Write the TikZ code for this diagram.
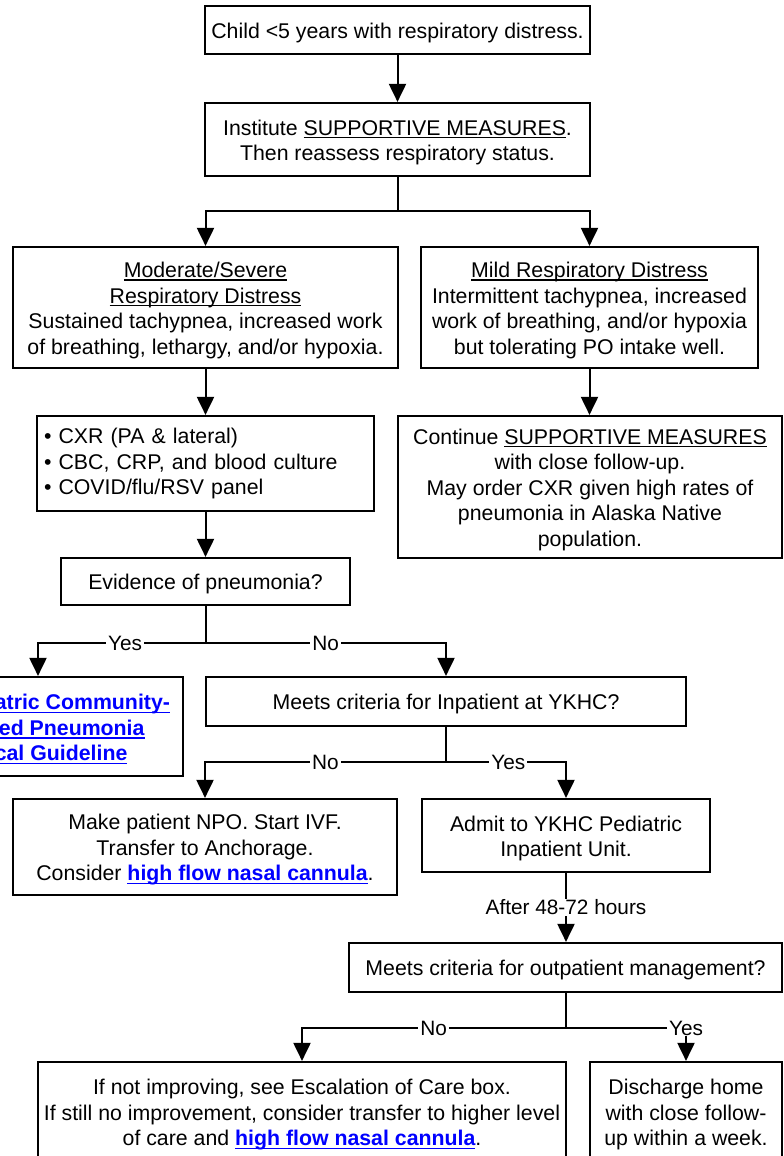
\documentclass[tikz,border=0pt]{standalone}
\usepackage{fontspec}
\setmainfont{Liberation Sans}
\usetikzlibrary{arrows.meta}
\definecolor{linkblue}{RGB}{0,0,255}
\newcommand\ulx[1]{\setbox0=\hbox{#1}\rlap{\rule[-3.2pt]{\wd0}{1.4pt}}\box0}
\newcommand\lnk[1]{{\bfseries\color{linkblue}\ulx{#1}}}
\newcommand\fs{\rule{0pt}{21pt}}
\begin{document}
\begin{tikzpicture}[x=1pt,y=-1pt,
  box/.style={draw, line width=2.2pt, inner sep=0pt, align=center, font=\fontsize{21.3}{25.5}\selectfont},
  conn/.style={line width=2pt},
  arr/.style={conn, -{Triangle[width=17pt,length=18pt]}},
  lbl/.style={fill=white, inner xsep=2pt, inner ysep=1pt, font=\fontsize{20.8}{24}\selectfont}]
\useasboundingbox (0,0) rectangle (784,1156);
\clip (0,0) rectangle (784,1156);
\fill[white] (0,0) rectangle (784,1156);

\node[box, minimum width=385pt, minimum height=48pt] (b1) at (397.5,30) {\fs Child <5 years with respiratory distress.};
\node[box, minimum width=385pt, minimum height=73pt] (b2) at (397.5,139.5) {\fs Institute \ulx{SUPPORTIVE MEASURES}.\\ Then reassess respiratory status.};
\node[box, minimum width=385pt, minimum height=121pt] (b3) at (205.5,307.5) {\fs\ulx{Moderate/Severe}\\ \ulx{Respiratory Distress}\\ Sustained tachypnea, increased work\\ of breathing, lethargy, and/or hypoxia.};
\node[box, minimum width=337pt, minimum height=121pt] (b4) at (589.5,307.5) {\fs\ulx{Mild Respiratory Distress}\\ Intermittent tachypnea, increased\\ work of breathing, and/or hypoxia\\ but tolerating PO intake well.};
\node[box, minimum width=337pt, minimum height=95pt, inner xsep=7pt, text width=323pt, align=left] (b5) at (205.5,463.5) {• CXR (PA \& lateral)\\ • CBC, CRP, and blood culture\\ • COVID/flu/RSV panel};
\node[box, minimum width=384pt, minimum height=142pt] (b6) at (590,487) {\fs Continue \ulx{SUPPORTIVE MEASURES}\\ with close follow-up.\\ May order CXR given high rates of\\ pneumonia in Alaska Native\\ population.};
\node[box, minimum width=289pt, minimum height=47pt] (b7) at (205.5,581.5) {\fs Evidence of pneumonia?};
\node[box, minimum width=290pt, minimum height=99pt] (b8) at (38,726.5) {\fs\phantom{\bfseries See }\lnk{Pediatric Community-}\\ \lnk{Acquired Pneumonia}\\ \lnk{Clinical Guideline}};
\node[box, minimum width=480pt, minimum height=49pt] (b9) at (446,701.5) {\fs Meets criteria for Inpatient at YKHC?};
\node[box, minimum width=384pt, minimum height=96pt] (b10) at (205,847) {\fs Make patient NPO. Start IVF.\\ Transfer to Anchorage.\\ Consider \lnk{high flow nasal cannula}.};
\node[box, minimum width=288pt, minimum height=73pt] (b11) at (566,835.5) {\fs Admit to YKHC Pediatric\\ Inpatient Unit.};
\node[box, minimum width=433pt, minimum height=49pt] (b12) at (565.5,967.5) {\fs Meets criteria for outpatient management?};
\node[box, minimum width=528pt, minimum height=100pt] (b13) at (302,1112) {\fs If not improving, see Escalation of Care box.\\ If still no improvement, consider transfer to higher level\\ of care and \lnk{high flow nasal cannula}.};
\node[box, minimum width=192pt, minimum height=100pt] (b14) at (686,1112) {\fs Discharge home\\ with close follow-\\ up within a week.};

\coordinate (s0) at (397.5,211);
\coordinate (s1) at (205.5,643);
\coordinate (s2) at (446,762);
\coordinate (s3) at (565.5,1028);

\draw[arr] (b1) -- (b2);
\draw[conn] (b2.south) -- (s0);
\draw[arr] (s0) -| (b3.north);
\draw[arr] (s0) -| (b4.north);
\draw[arr] (b3.south) -- (b3.south |- b5.north);
\draw[arr] (b4.south) -- (b4.south |- b6.north);
\draw[arr] (b5) -- (b7);
\draw[conn] (b7.south) -- (s1);
\draw[arr] (s1) -| node[lbl, pos=0.24] {Yes} (b8.north);
\draw[arr] (s1) -| node[lbl, pos=0.25] {No} (b9.north);
\draw[conn] (b9.south) -- (s2);
\draw[arr] (s2) -| node[lbl, pos=0.25] {No} (b10.north);
\draw[arr] (s2) -| node[lbl, pos=0.26] {Yes} (b11.north);
\draw[arr] (b11.south) -- node[lbl, pos=0.5] {After 48-72 hours} (b11.south |- b12.north);
\draw[conn] (b12.south) -- (s3);
\draw[arr] (s3) -| node[lbl, pos=0.25] {No} (b13.north);
\draw[arr] (s3) -| node[lbl, pos=0.5] {Yes} (b14.north);
\end{tikzpicture}
\end{document}
